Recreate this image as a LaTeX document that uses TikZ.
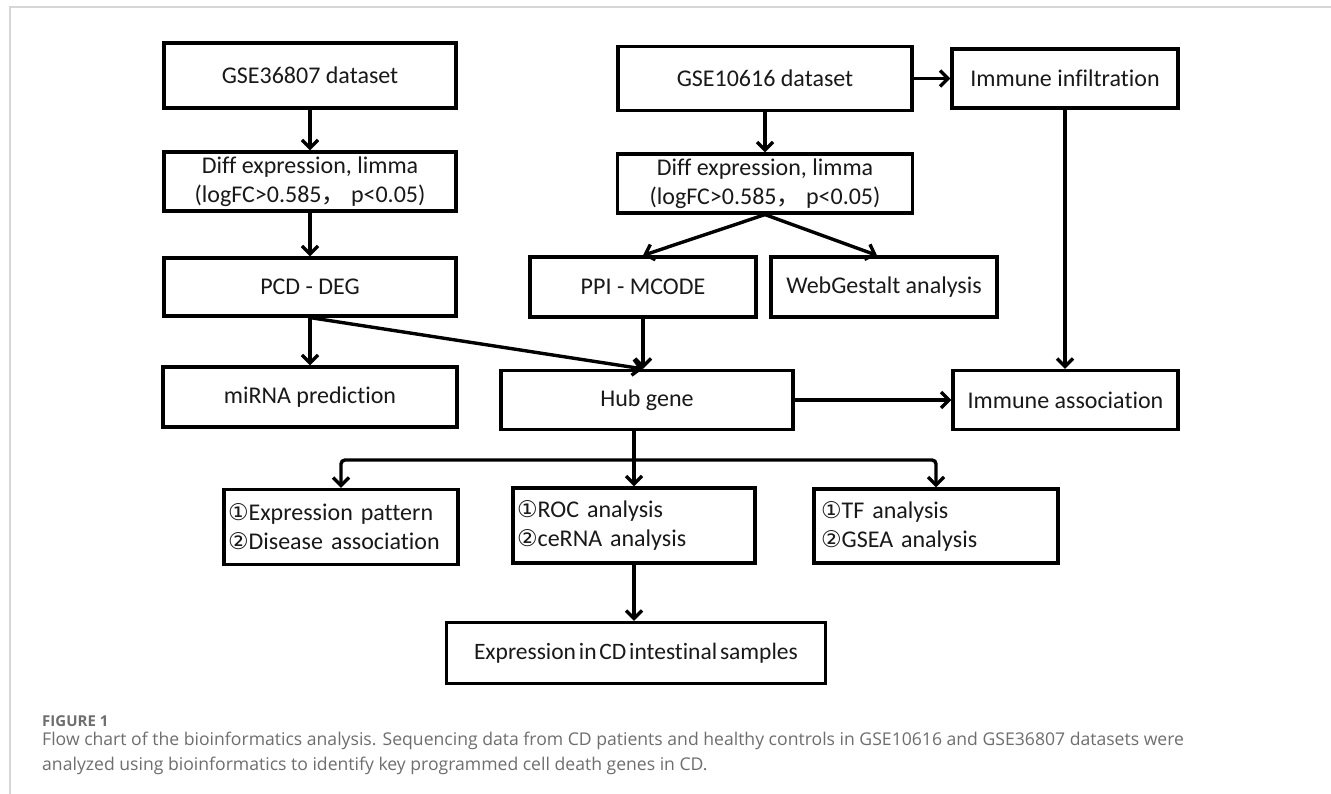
\documentclass[tikz,border=0pt]{standalone}
\usepackage{fontspec}
\setmainfont{Carlito}[Ligatures=NoCommon]
\newfontfamily\symfont{DejaVu Sans}
\newfontfamily\cjkfont{Noto Sans CJK SC}
\newfontfamily\capfont{Open Sans}
\usetikzlibrary{arrows.meta,calc}
\definecolor{capgray}{HTML}{6E6E6E}
\definecolor{framegray}{HTML}{D6D6D6}
\newcommand{\cone}{{\symfont\fontsize{23}{24}\selectfont ①}}
\newcommand{\ctwo}{{\symfont\fontsize{23}{24}\selectfont ②}}
\newcommand{\tightspace}{\spaceskip=0.12em plus 0.05em\relax}
\begin{document}
\begin{tikzpicture}[x=1pt,y=-1pt,
  box/.style={draw=black, line width=3.2pt, fill=white, inner sep=0pt,
    font=\fontsize{24}{29}\selectfont, text=black!90, align=center},
  lbox/.style={box, align=left, inner xsep=4pt},
  conn/.style={line width=3.4pt, draw=black},
  arr/.style={conn, -{Straight Barb[length=8pt,width=16pt]}},
  captext/.style={font=\capfont\fontsize{17.6}{25}\selectfont, text=capgray, anchor=base west, inner sep=0pt}
]
\useasboundingbox (0,0) rectangle (1331,794);
\fill[white] (0,0) rectangle (1331,794);
\draw[framegray, line width=1.6pt] (10,794) -- (10,7) -- (1331,7);

% left column
\node[box, minimum width=292pt, minimum height=65pt] (g36) at (310,75.5) {GSE36807 dataset};
\node[box, minimum width=292pt, minimum height=59pt] (diffL) at (310,181.5) {Diff expression, limma\\(logFC>0.585{\cjkfont ，}\ p<0.05)};
\node[box, minimum width=292pt, minimum height=58pt] (pcd) at (310,287) {PCD - DEG};
\node[box, minimum width=294pt, minimum height=60pt] (mirna) at (310,397) {miRNA prediction};

% middle column
\node[box, minimum width=294pt, minimum height=64pt] (g10) at (765,78.5) {GSE10616 dataset};
\node[box, minimum width=295pt, minimum height=59pt] (diffR) at (765,183.5) {Diff expression, limma\\(logFC>0.585{\cjkfont ，}\ p<0.05)};
\node[box, minimum width=226pt, minimum height=60pt] (ppi) at (643,287) {PPI - MCODE};
\node[box, minimum width=226pt, minimum height=60pt] (web) at (884,287) {WebGestalt analysis};
\node[box, minimum width=292pt, minimum height=59pt] (hub) at (647,400) {Hub gene};

% right column
\node[box, minimum width=226pt, minimum height=59pt] (immInf) at (1065,78.5) {Immune infiltration};
\node[box, minimum width=225pt, minimum height=59pt] (immAs) at (1065.5,400) {Immune association};

% bottom row
\node[lbox, minimum width=234pt, minimum height=75pt, text width=226pt] (expr) at (341,527) {\cone Expression pattern\\\ctwo Disease association};
\node[lbox, minimum width=242pt, minimum height=75pt, text width=234pt] (roc) at (634,525.5) {\cone ROC analysis\\\ctwo ceRNA analysis};
\node[lbox, minimum width=244pt, minimum height=74pt, text width=230pt] (tf) at (936,526) {\cone TF analysis\\\ctwo GSEA analysis};
\node[box, minimum width=379pt, minimum height=61pt, font=\fontsize{23.5}{28}\selectfont] (cd) at (636,653) {\tightspace Expression in CD intestinal samples};

% connectors
\draw[arr] (g36) -- (diffL);
\draw[arr] (diffL) -- (pcd);
\draw[arr] (pcd) -- (mirna);
\draw[arr] (g10) -- (diffR);
\draw[arr] (g10) -- (immInf);
\draw[arr] (diffR.south) -- (ppi.north);
\draw[arr] (diffR.south) -- ([xshift=-7pt]web.north);
\draw[arr] (immInf) -- (immInf |- immAs.north);
\coordinate (hubIn) at (ppi.south |- hub.north);
\draw[arr] (ppi.south) -- (hubIn);
\draw[arr] (pcd.south) -- (hubIn);
\draw[arr] (hub.east) -- (immAs.west);
\coordinate (jn) at (634,460);
\draw[conn] (hub.south -| jn) -- (jn);
\draw[arr, rounded corners=4pt] (jn) -| (expr.north);
\draw[arr, rounded corners=4pt] (jn) -| (tf.north);
\draw[arr] (jn) -- (roc.north);
\draw[arr] (roc.south) -- (roc.south |- cd.north);

% caption
\node[font=\capfont\bfseries\fontsize{15}{18}\selectfont, text=capgray, anchor=base west, inner sep=0pt] (figlab) at (42,726) {FIGURE 1};
\node[captext] (cap1) at (42,745) {Flow chart of the bioinformatics analysis. Sequencing data from CD patients and healthy controls in GSE10616 and GSE36807 datasets were};
\node[captext] (cap2) at (42,770) {analyzed using bioinformatics to identify key programmed cell death genes in CD.};
\end{tikzpicture}
\end{document}
